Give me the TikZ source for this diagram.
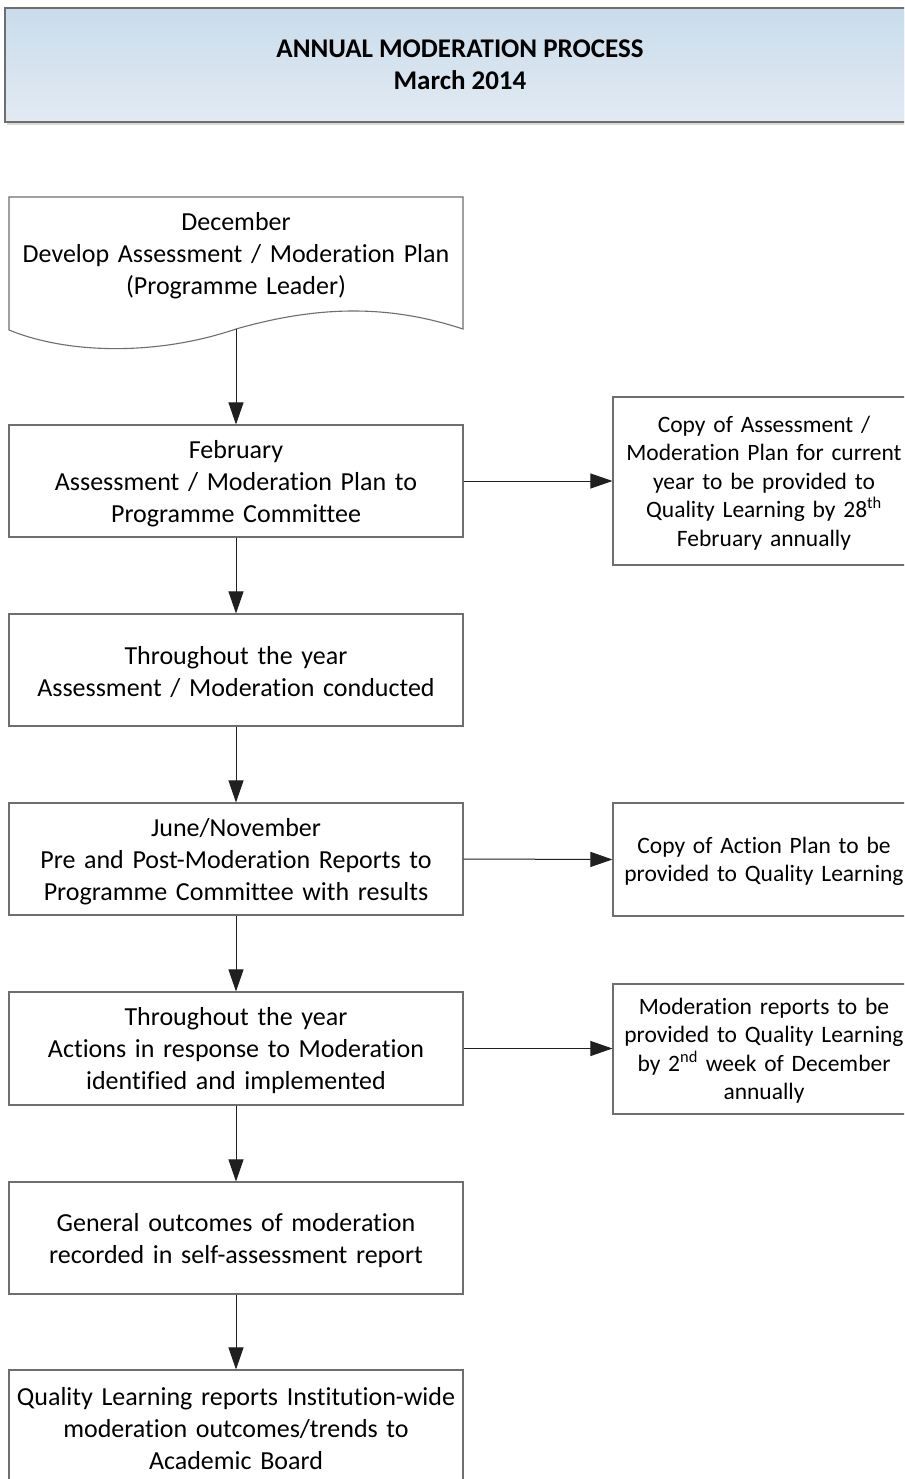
\documentclass[tikz,border=0pt]{standalone}
\usepackage{fontspec}
\setmainfont[Ligatures=NoCommon]{Carlito}
\usetikzlibrary{arrows.meta}
\definecolor{hdrtop}{HTML}{C9DCEB}
\definecolor{hdrbot}{HTML}{E2EAF3}
\definecolor{boxline}{HTML}{6E6E6E}
\definecolor{arrline}{HTML}{202020}
\tikzset{
  mainbox/.style={draw=boxline, line width=1.1pt, minimum width=454pt, align=center,
    font=\fontsize{26}{32}\selectfont, inner sep=0pt, text width=450pt,
    execute at begin node={\rule{0pt}{22.5pt}}},
  sidebox/.style={draw=boxline, line width=1.1pt, minimum width=302pt, align=center,
    font=\fontsize{23.5}{28.5}\selectfont, inner sep=0pt, text width=298pt,
    execute at begin node={\rule{0pt}{19.8pt}}},
  flow/.style={draw=arrline, line width=1pt, -{Triangle[length=22pt,width=15pt]}},
}
\begin{document}
\begin{tikzpicture}[x=1pt,y=-1pt]
\useasboundingbox (0,0) rectangle (904,1479);
\clip (0,0) rectangle (904,1479);
\fill[white] (0,0) rectangle (904,1479);
% header
\fill[black!15] (7,11) rectangle (918,125);
\node[draw=boxline, line width=1.2pt, top color=hdrtop, bottom color=hdrbot,
  minimum width=910pt, minimum height=114pt, inner sep=0pt, align=center,
  font=\fontsize{27}{32}\selectfont\bfseries] (hdr) at (460,65)
  {ANNUAL MODERATION PROCESS\\March 2014};
% document shape
\draw[draw=boxline, line width=1.1pt, fill=white] (9,197) -- (463,197) -- (463,329)
  .. controls (390,305) and (320,305) .. (236,329)
  .. controls (160,355) and (70,355) .. (9,330) -- cycle;
\node[align=center, font=\fontsize{26}{32}\selectfont, text width=450pt, inner sep=0pt] (dec) at (236,256)
  {December\\Develop Assessment / Moderation Plan\\(Programme Leader)};
\coordinate (decb) at (236,329);
% main boxes
\node[mainbox, minimum height=112pt] (feb) at (236,481)
  {February\\Assessment / Moderation Plan to\\Programme Committee};
\node[mainbox, minimum height=112pt] (thr) at (236,670)
  {Throughout the year\\Assessment / Moderation conducted};
\node[mainbox, minimum height=112pt] (jun) at (236,859)
  {June/November\\Pre and Post-Moderation Reports to\\Programme Committee with results};
\node[mainbox, minimum height=113pt] (act) at (236,1048.5)
  {Throughout the year\\Actions in response to Moderation\\identified and implemented};
\node[mainbox, minimum height=112pt] (gen) at (236,1238)
  {General outcomes of moderation\\recorded in self-assessment report};
\node[mainbox, minimum height=112pt] (qlr) at (236,1426)
  {Quality Learning reports Institution-wide\\moderation outcomes/trends to\\Academic Board};
% side boxes
\node[sidebox, minimum height=168pt] (s1) at (764,481)
  {Copy of Assessment /\\Moderation Plan for current\\year to be provided to\\Quality Learning by 28\textsuperscript{th}\\February annually};
\node[sidebox, minimum height=113pt] (s2) at (764,859.5)
  {Copy of Action Plan to be\\provided to Quality Learning};
\node[sidebox, minimum height=130pt] (s3) at (764,1049)
  {Moderation reports to be\\provided to Quality Learning\\by 2\textsuperscript{nd} week of December\\annually};
% connectors
\draw[flow] (decb) -- (feb.north);
\draw[flow] (feb.south) -- (thr.north);
\draw[flow] (thr.south) -- (jun.north);
\draw[flow] (jun.south) -- (act.north);
\draw[flow] (act.south) -- (gen.north);
\draw[flow] (gen.south) -- (qlr.north);
\draw[flow] (feb.east) -- (s1.west);
\draw[flow] (jun.east) -- (s2.west);
\draw[flow] (act.east) -- (act.east -| s3.west);
\end{tikzpicture}
\end{document}
